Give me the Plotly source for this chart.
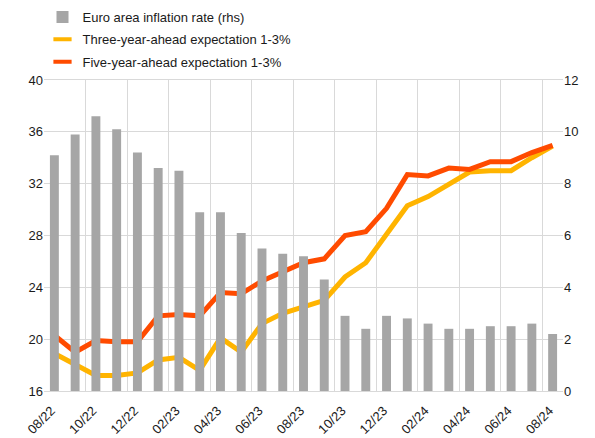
import plotly.graph_objects as go

months = ["08/22","09/22","10/22","11/22","12/22","01/23","02/23","03/23","04/23","05/23","06/23","07/23",
          "08/23","09/23","10/23","11/23","12/23","01/24","02/24","03/24","04/24","05/24","06/24","07/24","08/24"]
inflation = [9.1, 9.9, 10.6, 10.1, 9.2, 8.6, 8.5, 6.9, 6.9, 6.1, 5.5, 5.3,
             5.2, 4.3, 2.9, 2.4, 2.9, 2.8, 2.6, 2.4, 2.4, 2.5, 2.5, 2.6, 2.2]
three_year = [18.9, 18.0, 17.2, 17.2, 17.4, 18.4, 18.6, 17.6, 20.1, 19.0, 21.2, 22.0,
              22.5, 23.0, 24.8, 25.9, 28.1, 30.3, 31.0, 32.0, 32.9, 33.0, 33.0, 34.0, 34.9]
five_year = [20.3, 19.0, 19.9, 19.8, 19.8, 21.8, 21.9, 21.8, 23.6, 23.5, 24.5, 25.2,
             25.9, 26.2, 28.0, 28.3, 30.1, 32.7, 32.6, 33.2, 33.1, 33.7, 33.7, 34.4, 34.95]

names = ["Euro area inflation rate (rhs)", "Three-year-ahead expectation 1-3%", "Five-year-ahead expectation 1-3%"]
colors = ["#a6a6a6", "#ffb400", "#ff4b00"]

font = dict(family="Liberation Sans, Arial, sans-serif", size=13, color="#1a1a1a")

fig = go.Figure()
fig.add_trace(go.Bar(x=months, y=inflation, name=names[0],
                     marker=dict(color=colors[0], line=dict(width=0)), yaxis="y2",
                     width=0.43, legendgroup="a", legendrank=1))
fig.add_trace(go.Scatter(x=months, y=three_year, name=names[1], showlegend=False,
                         mode="lines", line=dict(color=colors[1], width=5)))
fig.add_trace(go.Scatter(x=months, y=five_year, name=names[2], showlegend=False,
                         mode="lines", line=dict(color=colors[2], width=5)))
# legend-only entries with short line symbols
for i, g in [(1, "b"), (2, "c")]:
    fig.add_trace(go.Scatter(x=[None], y=[None], name=names[i], mode="markers",
                             marker=dict(symbol="line-ew", size=13, color=colors[i],
                                         line=dict(width=4, color=colors[i])),
                             legendgroup=g, legendrank=i + 1))

fig.update_layout(
    width=595, height=438,
    margin=dict(l=44, r=32, t=80, b=47, autoexpand=False),
    paper_bgcolor="white", plot_bgcolor="white",
    font=font,
    showlegend=True,
    legend=dict(xref="container", yref="container", x=42.5 / 595, y=1 - 2 / 438,
                xanchor="left", yanchor="top",
                bgcolor="rgba(0,0,0,0)", tracegroupgap=2.5, itemwidth=30, font=font,
                traceorder="grouped"),
    xaxis=dict(type="category", tickson="boundaries", dtick=2, tickangle=-45,
               showgrid=True, gridcolor="#d9d9d9", gridwidth=1,
               showline=True, linecolor="#d9d9d9", mirror=True, ticks="",
               range=[-0.5, 24.5], ticklabelstandoff=6, ticklabelshift=-3),
    yaxis=dict(range=[16, 40], dtick=4, showgrid=True, gridcolor="#d9d9d9",
               zeroline=False, ticks="", showline=False),
    yaxis2=dict(range=[0, 12], dtick=2, overlaying="y", side="right", showgrid=False,
                zeroline=False, ticks="", showline=False),
    bargap=0.57,
)

fig.write_html("out.html", config={"displayModeBar": False},
               post_script="document.body.style.margin='0';document.body.style.padding='0';"
                           "document.documentElement.style.overflow='hidden';")
